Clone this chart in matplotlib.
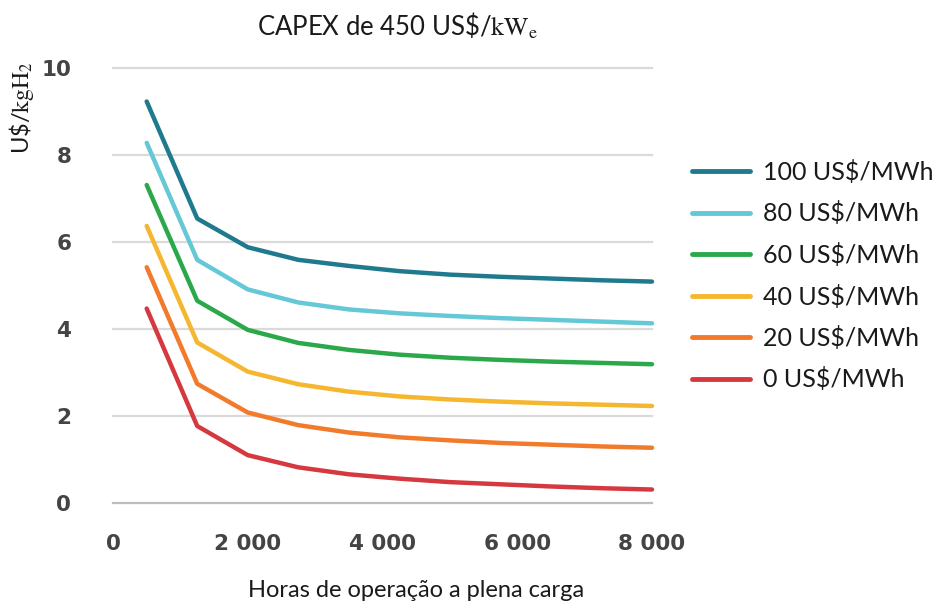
# -*- coding: utf-8 -*-
"""
Custo do hidrogênio vs horas de operação a plena carga
CAPEX de 450 US$/kWe
"""

import matplotlib
matplotlib.use('Agg')
import matplotlib.pyplot as plt

# Dados
horas = [500, 1250, 2000, 2750, 3500, 4250, 5000, 5750, 6500, 7250, 8000]

custo_100 = [9.23, 6.54, 5.88, 5.59, 5.45, 5.33, 5.25, 5.20, 5.16, 5.12, 5.09]
custo_80 = [8.28, 5.59, 4.91, 4.61, 4.45, 4.36, 4.30, 4.25, 4.21, 4.17, 4.13]
custo_60 = [7.31, 4.65, 3.98, 3.68, 3.52, 3.41, 3.34, 3.29, 3.25, 3.22, 3.19]
custo_40 = [6.37, 3.69, 3.02, 2.73, 2.56, 2.45, 2.38, 2.33, 2.29, 2.26, 2.23]
custo_20 = [5.42, 2.74, 2.08, 1.79, 1.62, 1.51, 1.44, 1.38, 1.34, 1.30, 1.27]
custo_0 = [4.47, 1.77, 1.10, 0.82, 0.66, 0.56, 0.48, 0.43, 0.38, 0.34, 0.31]

rotulos = ['100 US$/MWh', '80 US$/MWh', '60 US$/MWh',
           '40 US$/MWh', '20 US$/MWh', '0 US$/MWh']
cores = ['#1f7a8e', '#64c8d7', '#2ba84a', '#f5b630', '#f27a2b', '#d6383f']

xticks = [0, 2000, 4000, 6000, 8000]
xtick_labels = ['0', '2 000', '4 000', '6 000', '8 000']
yticks = [0, 2, 4, 6, 8, 10]


def gerar_grafico():
    plt.rcParams['mathtext.fontset'] = 'stix'
    W, H = 938, 603
    fig = plt.figure(figsize=(W / 100, H / 100), dpi=100)
    ax = fig.add_axes([113 / W, 1 - 503 / H, (652 - 113) / W, (503 - 68) / H])

    series = [custo_100, custo_80, custo_60, custo_40, custo_20, custo_0]
    for valores, cor, rot in zip(series, cores, rotulos):
        ax.plot(horas, valores, color=cor, lw=3.2, label=rot,
                solid_capstyle='round', clip_on=False, zorder=3)

    ax.set_xlim(0, 8000)
    ax.set_ylim(0, 10)
    ax.set_xticks(xticks)
    ax.set_xticklabels(xtick_labels)
    ax.set_yticks(yticks)
    for s in ax.spines.values():
        s.set_visible(False)
    ax.tick_params(axis='both', length=0, labelsize=15.5, labelcolor='#444444')
    ax.tick_params(axis='y', pad=30)
    ax.tick_params(axis='x', pad=22)
    for lab in ax.get_xticklabels() + ax.get_yticklabels():
        lab.set_fontweight('bold')

    # grade horizontal
    ax.grid(axis='y', color='#dadada', lw=1.6)
    ax.grid(axis='x', visible=False)
    for i, g in enumerate(ax.get_ygridlines()):
        g.set_clip_on(False)
        if i == 0:
            g.set_color('#bdbdbd')

    # títulos
    fig.text(398 / W, 1 - 35 / H, r'CAPEX de 450 US\$/$\mathrm{kW_e}$',
             ha='center', va='baseline', fontsize=18.5, family='Lato',
             color='#1a1a1a')
    fig.text(416 / W, 1 - 597 / H, 'Horas de operação a plena carga',
             ha='center', va='baseline', fontsize=17, family='Lato',
             color='#1a1a1a')
    fig.text(21 / W, 1 - 108 / H, r'U\$/$\mathrm{kgH_2}$', rotation=90,
             ha='center', va='center', fontsize=17, family='Lato',
             color='#1a1a1a')

    leg = ax.legend(loc='upper left', bbox_to_anchor=(692 / W, 1 - 160 / H),
                    bbox_transform=fig.transFigure, frameon=False,
                    prop={'family': 'Lato', 'size': 18}, handlelength=2.3,
                    handletextpad=0.55, labelspacing=0.70, borderpad=0,
                    borderaxespad=0)
    for t in leg.get_texts():
        t.set_color('#1a1a1a')
    for h in leg.get_lines():
        h.set_linewidth(3.5)

    fig.savefig('out.png', dpi=100)


def main():
    gerar_grafico()


if __name__ == "__main__":
    main()
